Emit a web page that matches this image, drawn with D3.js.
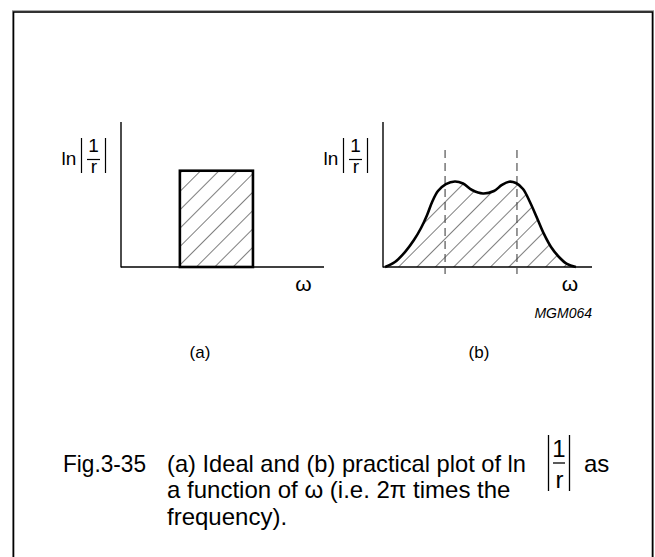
<!DOCTYPE html>
<html>
<head>
<meta charset="utf-8">
<script src="https://cdn.jsdelivr.net/npm/d3@7"></script>
<style>
  html, body { margin: 0; padding: 0; background: #fff; }
  svg { display: block; }
  text { font-family: "Liberation Sans", Arial, Helvetica, sans-serif; fill: #000; }
</style>
</head>
<body>
<svg id="fig" width="655" height="557"></svg>
<script>
// Ideal response (a): a flat band between two frequencies
const idealBand = [2.9, 6.5];
const idealLevel = 6.64;

// Practical response (b): omega vs ln|1/r|
const practicalOmega = [0.1, 0.57, 1.05, 1.48, 1.82, 2.11, 2.35, 2.63, 3.01, 3.44, 3.83, 4.26, 4.78, 5.31, 5.69, 6.03, 6.36, 6.7, 7.03, 7.37, 7.7, 8.04, 8.42, 8.8, 9.23];
const practicalLevel = [0, 0.34, 1.03, 1.86, 2.69, 3.59, 4.48, 5.24, 5.72, 5.9, 5.76, 5.31, 5.07, 5.24, 5.66, 5.88, 5.79, 5.38, 4.48, 3.38, 2.28, 1.38, 0.69, 0.21, 0];
// band edges marked by dashed lines
const bandEdges = [2.97, 6.41];

const panelLabels = ["(a)", "(b)"];
const axisXLabel = "\u03c9";
const figCode = "MGM064";
const captionNumber = "Fig.3-35";
const captionLines = [
  "(a) Ideal and (b) practical plot of ln",
  "a function of \u03c9 (i.e. 2\u03c0 times the",
  "frequency)."
];
const captionTail = "as";

const svg = d3.select("#fig");

// outer frame
svg.append("rect").attr("x", 12.5).attr("y", 10.5).attr("width", 641).attr("height", 600)
  .attr("fill", "none").attr("stroke", "#aaa").attr("stroke-width", 1);
svg.append("rect").attr("x", 13.5).attr("y", 12).attr("width", 639).attr("height", 600)
  .attr("fill", "none").attr("stroke", "#000").attr("stroke-width", 1.6);

// diagonal hatch fill
const defs = svg.append("defs");
defs.append("pattern").attr("id", "hatch")
  .attr("patternUnits", "userSpaceOnUse")
  .attr("width", 13).attr("height", 13)
  .attr("patternTransform", "translate(3,0) rotate(45)")
  .append("line").attr("x1", 0).attr("y1", 0).attr("x2", 0).attr("y2", 13)
  .attr("stroke", "#000").attr("stroke-width", 1);

// panel geometry
const panels = [
  { x0: 121, x1: 324, y0: 267, y1: 122 },
  { x0: 383, x1: 592, y0: 267, y1: 122 }
];

function axes(p) {
  const g = svg.append("g");
  g.append("line").attr("x1", p.x0).attr("y1", p.y1).attr("x2", p.x0).attr("y2", p.y0 + 0.6)
    .attr("stroke", "#000").attr("stroke-width", 1.4);
  g.append("line").attr("x1", p.x0).attr("y1", p.y0).attr("x2", p.x1).attr("y2", p.y0)
    .attr("stroke", "#000").attr("stroke-width", 1.4);
  return g;
}

function yLabel(ax) {
  // "ln |1/r|" with a stacked fraction between bars
  const g = svg.append("g").attr("transform", `translate(${ax},0)`).attr("font-size", 19);
  g.append("text").attr("x", -59.5).attr("y", 164.5).text("ln");
  [-39.5, -15.5].forEach(bx => {
    g.append("line").attr("x1", bx).attr("x2", bx).attr("y1", 138).attr("y2", 173)
      .attr("stroke", "#000").attr("stroke-width", 1.2);
  });
  g.append("text").attr("x", -27.5).attr("y", 152).attr("text-anchor", "middle").text("1");
  g.append("line").attr("x1", -34).attr("x2", -21).attr("y1", 159.5).attr("y2", 159.5)
    .attr("stroke", "#000").attr("stroke-width", 1.2);
  g.append("text").attr("x", -27).attr("y", 172.5).attr("text-anchor", "middle").text("r");
}

// ---- panel (a)
{
  const p = panels[0];
  const x = d3.scaleLinear().domain([0, 10]).range([p.x0, p.x1]);
  const y = d3.scaleLinear().domain([0, 10]).range([p.y0, p.y1]);
  axes(p);
  svg.append("rect")
    .attr("x", x(idealBand[0])).attr("y", y(idealLevel))
    .attr("width", x(idealBand[1]) - x(idealBand[0]))
    .attr("height", y(0) - y(idealLevel))
    .attr("fill", "url(#hatch)").attr("stroke", "#000").attr("stroke-width", 2.6);
  yLabel(p.x0);
  svg.append("text").attr("x", 303.5).attr("y", 291).attr("text-anchor", "middle")
    .attr("font-size", 21).text(axisXLabel);
  svg.append("text").attr("x", 200).attr("y", 358).attr("text-anchor", "middle")
    .attr("font-size", 17).text(panelLabels[0]);
}

// ---- panel (b)
{
  const p = panels[1];
  const x = d3.scaleLinear().domain([0, 10]).range([p.x0, p.x1]);
  const y = d3.scaleLinear().domain([0, 10]).range([p.y0, p.y1]);
  const pts = practicalOmega.map((w, i) => [w, practicalLevel[i]]);
  const area = d3.area().x(d => x(d[0])).y0(y(0)).y1(d => y(d[1])).curve(d3.curveCatmullRom);
  const line = d3.line().x(d => x(d[0])).y(d => y(d[1])).curve(d3.curveCatmullRom);

  svg.append("path").attr("d", area(pts)).attr("fill", "url(#hatch)");
  axes(p);
  bandEdges.forEach(w => {
    svg.append("line").attr("x1", x(w)).attr("x2", x(w)).attr("y1", 150).attr("y2", 274)
      .attr("stroke", "#444").attr("stroke-width", 1.1).attr("stroke-dasharray", "8,5");
  });
  svg.append("path").attr("d", line(pts)).attr("fill", "none")
    .attr("stroke", "#000").attr("stroke-width", 2.6).attr("stroke-linejoin", "round");
  yLabel(p.x0);
  svg.append("text").attr("x", 570).attr("y", 291).attr("text-anchor", "middle")
    .attr("font-size", 21).text(axisXLabel);
  svg.append("text").attr("x", 592).attr("y", 318).attr("text-anchor", "end")
    .attr("font-size", 14).attr("font-style", "italic").text(figCode);
  svg.append("text").attr("x", 479).attr("y", 358).attr("text-anchor", "middle")
    .attr("font-size", 17).text(panelLabels[1]);
}

// ---- caption
const cap = svg.append("g").attr("font-size", 24);
cap.append("text").attr("x", 63).attr("y", 472)
  .attr("textLength", 83).attr("lengthAdjust", "spacingAndGlyphs").text(captionNumber);
cap.append("text").attr("x", 167).attr("y", 472)
  .attr("textLength", 359).attr("lengthAdjust", "spacingAndGlyphs").text(captionLines[0]);
cap.append("text").attr("x", 584).attr("y", 472).text(captionTail);
cap.append("text").attr("x", 167).attr("y", 498).text(captionLines[1]);
cap.append("text").attr("x", 167).attr("y", 525).text(captionLines[2]);

// caption fraction |1/r|
[548.5, 569.5].forEach(bx => {
  cap.append("line").attr("x1", bx).attr("x2", bx).attr("y1", 435).attr("y2", 491)
    .attr("stroke", "#000").attr("stroke-width", 1.3);
});
cap.append("text").attr("x", 559).attr("y", 457).attr("text-anchor", "middle").text("1");
cap.append("line").attr("x1", 553).attr("x2", 565).attr("y1", 463).attr("y2", 463)
  .attr("stroke", "#000").attr("stroke-width", 1.3);
cap.append("text").attr("x", 559.5).attr("y", 488).attr("text-anchor", "middle").text("r");
</script>
</body>
</html>
